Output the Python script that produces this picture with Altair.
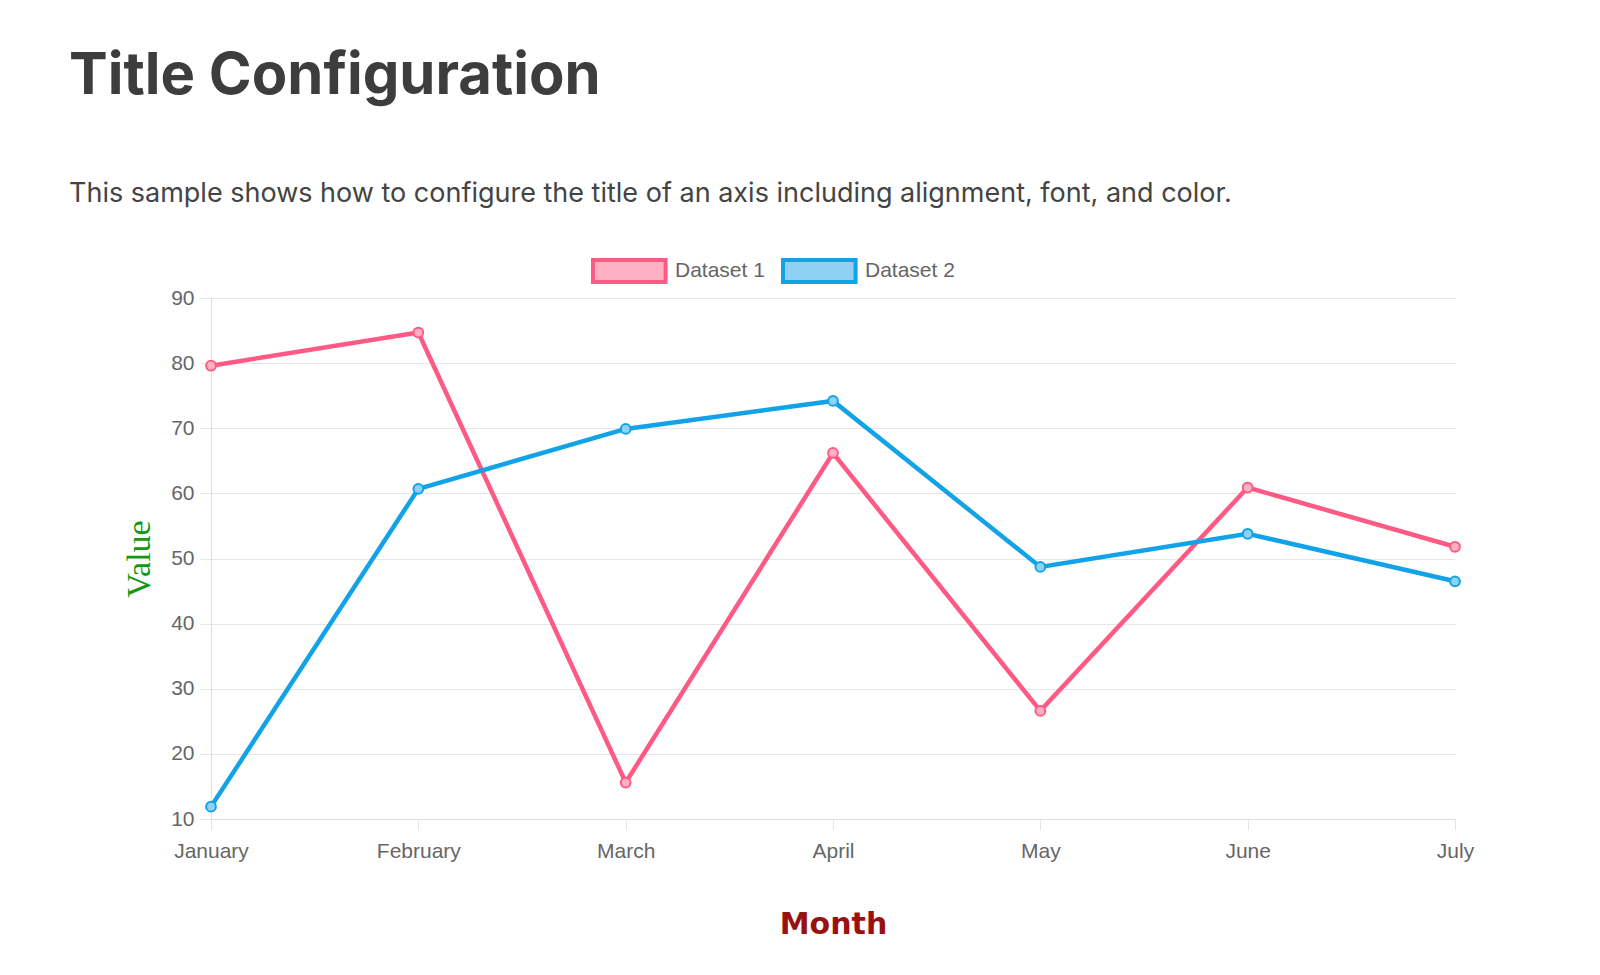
import altair as alt
import pandas as pd

months = ["January", "February", "March", "April", "May", "June", "July"]
dataset1 = [79.6, 84.7, 15.6, 66.2, 26.6, 60.9, 51.8]
dataset2 = [11.9, 60.7, 69.9, 74.2, 48.7, 53.8, 46.5]
series_names = ["Dataset 1", "Dataset 2"]
series_colors = ["#ff5a84", "#12a2e8"]
series_fills = ["#ffb1c3", "#8fd1f3"]
y_ticks = [10, 20, 30, 40, 50, 60, 70, 80, 90]

rows = []
for name, vals in zip(series_names, [dataset1, dataset2]):
    for m, v in zip(months, vals):
        rows.append({"month": m, "value": v, "series": name})
df = pd.DataFrame(rows)

x = alt.X(
    "month:N",
    sort=months,
    scale=alt.Scale(type="point", padding=0),
    axis=alt.Axis(
        title="Month",
        labelAngle=0,
        tickSize=11,
        labelPadding=10,
        titleFont="'Comic Sans MS', 'DejaVu Sans'",
        titleFontSize=30,
        titleFontWeight="bold",
        titleColor="#991111",
        titlePadding=48,
    ),
)
y = alt.Y(
    "value:Q",
    scale=alt.Scale(domain=[10, 90], nice=False, zero=False),
    axis=alt.Axis(
        values=y_ticks,
        title="Value",
        tickSize=11,
        labelPadding=6,
        titleFont="Liberation Serif",
        titleFontSize=34,
        titleFontWeight="normal",
        titleColor="#119911",
        titlePadding=14,
    ),
)


def make_legend():
    return alt.Legend(
        orient="none",
        legendX=380,
        legendY=-40,
        direction="horizontal",
        title=None,
        symbolType="M-1,-1H5.6V1H-1Z",
        symbolSize=484,
        symbolStrokeWidth=4,
        symbolOpacity=1,
        labelFont="Liberation Sans",
        labelFontSize=21,
        labelColor="#666666",
        labelOffset=58,
        columnPadding=10,
    )


stroke = alt.Stroke(
    "series:N",
    scale=alt.Scale(domain=series_names, range=series_colors),
    legend=make_legend(),
)
fill = alt.Fill(
    "series:N",
    scale=alt.Scale(domain=series_names, range=series_fills),
    legend=make_legend(),
)

line = alt.Chart(df).mark_line(strokeWidth=4.5).encode(x=x, y=y, stroke=stroke)
points = alt.Chart(df).mark_point(
    filled=True, size=95, strokeWidth=2, opacity=1
).encode(x=x, y=y, fill=fill, stroke=stroke)

chart = (
    alt.layer(line, points)
    .properties(
        width=1244,
        height=521,
        autosize=alt.AutoSizeParams(type="none"),
        padding={"left": 203, "top": 290, "right": 100, "bottom": 140},
        title=alt.TitleParams(
            text="Title Configuration",
            subtitle="This sample shows how to configure the title of an axis including alignment, font, and color.",
            anchor="start",
            frame="group",
            font="Inter",
            fontSize=58,
            fontWeight="bold",
            color="#3d3d3d",
            subtitleFont="Inter",
            subtitleFontSize=27,
            subtitleColor="#444444",
            subtitlePadding=75,
            dx=-142,
            offset=51,
        ),
    )
    .configure_view(stroke=None)
    .configure_axis(
        gridColor="#e6e6e6",
        domainColor="#dedede",
        tickColor="#e6e6e6",
        labelFont="Liberation Sans",
        labelFontSize=21,
        labelColor="#666666",
    )
)

chart.save("out.html", embed_options={"renderer": "svg", "actions": False})
